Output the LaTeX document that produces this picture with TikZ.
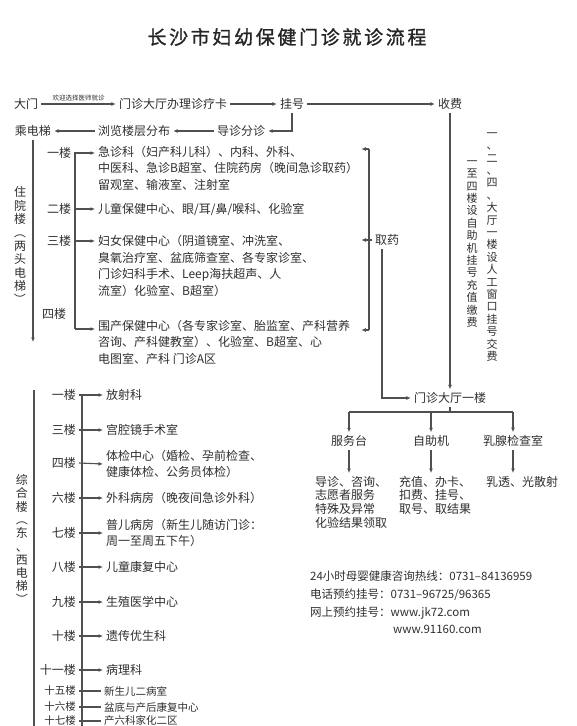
\documentclass[tikz,border=0pt]{standalone}
\usepackage{fontspec}
\setmainfont{Noto Sans CJK SC}
\newfontfamily\titlefont[LetterSpace=14,FakeBold=1.2]{Noto Sans CJK SC}
\usetikzlibrary{arrows.meta,positioning,calc}
\definecolor{Ink}{HTML}{2E2E2E}
\definecolor{Wire}{HTML}{505050}
\newcommand{\vopen}{\rotatebox[origin=c]{-90}{（}}
\newcommand{\vclose}{\rotatebox[origin=c]{-90}{）}}
\tikzset{
 lbl/.style={text=Ink,font=\fontsize{12}{16.4}\selectfont,inner sep=3pt},
 ttl/.style={text=Ink!80!black,font=\titlefont\fontsize{19}{19}\selectfont},
 hint/.style={text=Ink,font=\fontsize{6.5}{7}\selectfont,inner sep=1pt},
 room/.style={lbl,anchor=west,align=left},
 flr/.style={lbl,anchor=east},
 minor/.style={font=\fontsize{10.5}{12}\selectfont},
 vert/.style={text=Ink,font=\fontsize{11}{12.4}\selectfont,align=center,inner sep=0pt},
 info/.style={lbl,anchor=west,font=\fontsize{11.5}{13}\selectfont},
 wire/.style={draw=Wire,line width=1.1pt},
 arr/.style={wire,-{Latex[length=4.5pt,width=4pt]}}
}
\begin{document}
\begin{tikzpicture}[x=1pt,y=-1pt]
\useasboundingbox (0,0) rectangle (577,726);
\node[ttl] (title) at (287,37) {长沙市妇幼保健门诊就诊流程};
% entry and registration
\node[lbl] (gate) at (26,104) {大门};
\node[lbl] (card) at (173,104) {门诊大厅办理诊疗卡};
\node[lbl] (reg) at (292,104) {挂号};
\node[lbl] (pay) at (450,104) {收费};
\node[lbl] (guide) at (241,131) {导诊分诊};
\node[lbl] (browse) at (134,131) {浏览楼层分布};
\node[lbl] (lift) at (33,131) {乘电梯};
\draw[arr] (gate) -- node[hint,above=1pt] {欢迎选择医师就诊} (card);
\foreach \x/\y in {card/reg,reg/pay,guide/browse,browse/lift} \draw[arr] (\x)--(\y);
\draw[arr] (reg.south) |- (guide.east);
% inpatient building
\node[vert,font=\fontsize{12}{13.4}\selectfont] (inpt) at (20,246) {住\\院\\楼\\\vopen\\两\\头\\电\\梯\\\vclose};
\coordinate (liftend) at (33,342);
\draw[arr] (lift.south) -- (liftend);
\node[lbl] (f1) at (59,153) {一楼};
\node[lbl] (f2) at (59,209) {二楼};
\node[lbl] (f3) at (59,241) {三楼};
\node[lbl] (f4) at (54,314) {四楼};
\node[room] (w1) at (95,168) {急诊科（妇产科儿科）、内科、外科、\\中医科、急诊B超室、住院药房（晚间急诊取药）\\留观室、输液室、注射室};
\node[room] (w2) at (95,209) {儿童保健中心、眼/耳/鼻/喉科、化验室};
\node[room] (w3) at (95,266) {妇女保健中心（阴道镜室、冲洗室、\\臭氧治疗室、盆底筛查室、各专家诊室、\\门诊妇科手术、Leep海扶超声、人\\流室）化验室、B超室）};
\node[room] (w4) at (95,342) {围产保健中心（各专家诊室、胎监室、产科营养\\咨询、产科健教室）、化验室、B超室、心\\电图室、产科 门诊A区};
\coordinate (busA) at (75,329);
\draw[wire] (f1.east -| busA) -- (busA);
\foreach \f/\w in {f1/w1,f2/w2,f3/w3} \draw[arr] (\f.east) -- (\f.east -| \w.west);
\draw[arr] (busA) -- (busA -| w4.west);
% pharmacy
\node[lbl] (drug) at (387,240) {取药};
\coordinate (dt) at (369,149);
\coordinate (db) at (369,330);
\draw[wire] (dt) -- (db);
\draw[arr] (drug.west) -- (drug.west -| w1.east);
\draw[arr] (dt) -- (dt -| w1.east);
\draw[arr] (db) -- (db -| w1.east);
% outpatient hall
\node[lbl] (hall) at (450,398) {门诊大厅一楼};
\draw[arr] (pay) -- (hall);
\draw[arr] ([xshift=-5pt]drug.south) |- (hall.west);
\node[vert] (self) at (472,244) {一\\至\\四\\楼\\设\\自\\助\\机\\挂\\号\\充\\值\\缴\\费};
\node[vert] (manual) at (492,247) {一\\、\\二\\、\\四\\、\\大\\厅\\一\\楼\\设\\人\\工\\窗\\口\\挂\\号\\交\\费};
\node[lbl] (desk) at (349,441) {服务台};
\node[lbl] (kiosk) at (431,441) {自助机};
\node[lbl] (breast) at (513,441) {乳腺检查室};
\coordinate (split) at (450,412);
\draw[wire] (hall) -- (split);
\draw[wire] (split -| desk) -- (split -| breast);
\foreach \n in {desk,kiosk,breast} \draw[arr] (split -| \n) -- (\n);
\node[room,anchor=north west,font=\fontsize{12}{13.6}\selectfont] (desk2) at (312,473) {导诊、咨询、\\志愿者服务\\特殊及异常\\化验结果领取};
\node[room,anchor=north west,font=\fontsize{12}{13.6}\selectfont] (kiosk2) at (396,473) {充值、办卡、\\扣费、挂号、\\取号、取结果};
\node[room,anchor=north west,font=\fontsize{12}{13.6}\selectfont] (breast2) at (483,473) {乳透、光散射};
\foreach \x/\y in {desk/desk2,kiosk/kiosk2,breast/breast2} \draw[arr] (\x) -- (\x |- \y.north);
% general building
\node[vert,font=\fontsize{12}{13.3}\selectfont] (gen) at (22,540) {综\\合\\楼\\\vopen\\东\\、\\西\\电\\梯\\\vclose};
\coordinate (gtop) at (34,390);
\coordinate (gbot) at (34,726);
\draw[wire] (gtop) -- (gbot);
\node[flr] (g1) at (79,395) {一楼};
\node[flr] (g3) at (79,430) {三楼};
\node[flr] (g4) at (79,463) {四楼};
\node[flr] (g6) at (79,498) {六楼};
\node[flr] (g7) at (79,533) {七楼};
\node[flr] (g8) at (79,567) {八楼};
\node[flr] (g9) at (79,602) {九楼};
\node[flr] (g10) at (79,636) {十楼};
\node[flr] (g11) at (79,670) {十一楼};
\node[flr,minor] (g15) at (79,691) {十五楼};
\node[flr,minor] (g16) at (79,707) {十六楼};
\node[flr,minor] (g17) at (79,721) {十七楼};
\node[room] (h1) at (103,395) {放射科};
\node[room] (h3) at (103,430) {宫腔镜手术室};
\node[room] (h4) at (103,464) {体检中心（婚检、孕前检查、\\健康体检、公务员体检）};
\node[room] (h6) at (103,498) {外科病房（晚夜间急诊外科）};
\node[room] (h7) at (103,533) {普儿病房（新生儿随访门诊：\\周一至周五下午）};
\node[room] (h8) at (103,567) {儿童康复中心};
\node[room] (h9) at (103,602) {生殖医学中心};
\node[room] (h10) at (103,636) {遗传优生科};
\node[room] (h11) at (103,670) {病理科};
\node[room,minor] (h15) at (101,691) {新生儿二病室};
\node[room,minor] (h16) at (101,707) {盆底与产后康复中心};
\node[room,minor] (h17) at (101,721) {产六科家化二区};
\coordinate (busC) at (82,726);
\draw[wire] (g1.east -| busC) -- (busC);
\foreach \n in {1,3,4,6,7,8,9,10,11} \draw[arr] (g\n.east) -- (h\n.west);
\foreach \n in {15,16,17} \draw[wire] (g\n.east) -- (h\n.west);
% contact
\node[info] (hot) at (307,576) {24小时母婴健康咨询热线：0731–84136959};
\node[info] (tel) at (307,595) {电话预约挂号：0731–96725/96365};
\node[info] (web) at (307,613) {网上预约挂号：www.jk72.com};
\node[info] (web2) at (390,629) {www.91160.com};
\end{tikzpicture}
\end{document}
